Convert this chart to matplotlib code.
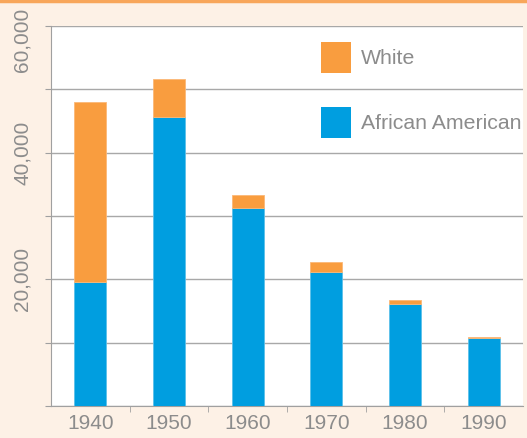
import matplotlib.pyplot as plt
import matplotlib.transforms as mtransforms
from matplotlib.patches import Patch
from matplotlib.lines import Line2D

years = ['1940', '1950', '1960', '1970', '1980', '1990']
african_american = [19600, 45600, 31300, 21100, 16100, 10700]
white = [28400, 6000, 2000, 1600, 650, 200]
yticks = [20000, 40000, 60000]
ytick_labels = ['20,000', '40,000', '60,000']

orange = '#f99d3f'
blue = '#009ee0'
gray = '#8c8c8c'

plt.rcParams['font.family'] = ['Liberation Sans', 'DejaVu Sans']

fig = plt.figure(figsize=(5.27, 4.38), dpi=100, facecolor='#fdf1e6')
ax = fig.add_axes([51 / 527, 32 / 438, 472 / 527, 380 / 438])

x = list(range(len(years)))
ax.bar(x, african_american, width=0.41, color=blue, edgecolor='#5cc0ea', linewidth=0.6, zorder=3)
ax.bar(x, white, width=0.41, bottom=african_american, color=orange, edgecolor='#fbb877', linewidth=0.6, zorder=3)

ax.set_xlim(-0.5, len(years) - 0.5)
ax.set_ylim(0, 60000)
ax.set_xticks(x)
ax.set_xticklabels(years, fontsize=15, color=gray)
ax.set_xticks([i + 0.5 for i in x[:-1]], minor=True)
ax.tick_params(axis='x', which='major', length=0, pad=6)
ax.tick_params(axis='x', which='minor', length=4, color='#a0a0a0')

ax.set_yticks(range(0, 60001, 10000))
ax.set_yticklabels(['', '', ytick_labels[0], '', ytick_labels[1], '', ytick_labels[2]],
                   rotation=90, va='center', fontsize=15, color=gray)
ax.tick_params(axis='y', length=4, color='#a0a0a0', pad=10)
lab = ax.get_yticklabels()[-1]
lab.set_transform(lab.get_transform() + mtransforms.ScaledTranslation(0, -0.14, fig.dpi_scale_trans))

ax.grid(axis='y', color='#a8a8a8', linewidth=1, zorder=0)
for s in ['top', 'right']:
    ax.spines[s].set_visible(False)
for s in ['left', 'bottom']:
    ax.spines[s].set_color('#a0a0a0')

handles = [Patch(facecolor=orange), Patch(facecolor=blue)]
ax.legend(handles, ['White', 'African American'], loc='upper left',
          bbox_to_anchor=(321 / 527, 1 - 42 / 438), bbox_transform=fig.transFigure,
          frameon=False, fontsize=15.3, labelcolor=gray, handlelength=1.4, handleheight=1.85,
          labelspacing=1.6, handletextpad=0.5, borderpad=0, borderaxespad=0)

fig.add_artist(Line2D([0, 1], [0.997, 0.997], transform=fig.transFigure, color='#f8a65a', linewidth=2.5))

fig.savefig('out.png', dpi=100, facecolor=fig.get_facecolor())
